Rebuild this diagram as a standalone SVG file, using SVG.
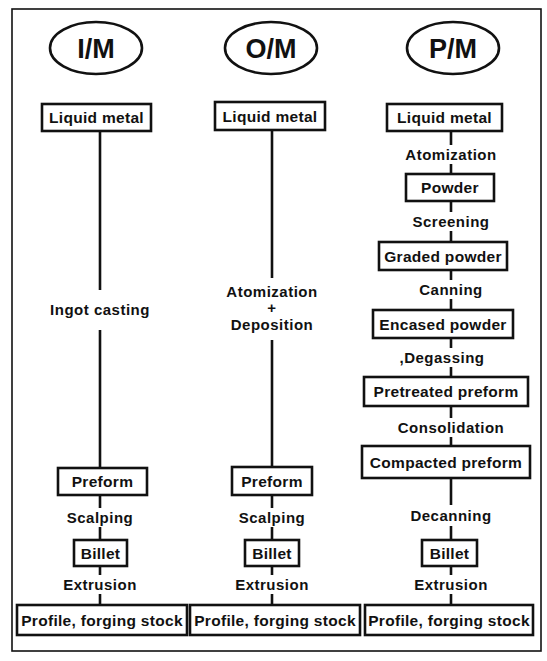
<svg xmlns="http://www.w3.org/2000/svg" width="547" height="661" viewBox="0 0 547 661">
<style>
.frame{fill:none;stroke:#111;stroke-width:1.6}
.box{fill:#fff;stroke:#111;stroke-width:2.6}
.ell{fill:#fff;stroke:#111;stroke-width:2.6}
.ln{stroke:#111;stroke-width:2.6;fill:none}
text{font-family:"Liberation Sans",Arial,sans-serif;font-weight:bold;fill:#111;text-anchor:middle}
.t{font-size:15px;letter-spacing:0.5px}
.b{font-size:15.5px;letter-spacing:0.3px}
.h{font-size:27px}
</style>
<rect width="547" height="661" fill="#fff"/>
<rect class="frame" x="12" y="9" width="529" height="642"/>
<g id="connectors">
<path class="ln" d="M100 131V290M100 330V468M100 495V508M100 527V540M100 566V575M100 594V605"/>
<path class="ln" d="M272 130V278M272 340V467M272 495V508M272 527V540M272 566V575M272 594V605"/>
<path class="ln" d="M451 131V145M451 164V174M451 201V212M451 231V242M451 270V280M451 299V310M451 338V348M451 367V377M451 406V418M451 437V446M451 478V505M451 526V540M451 566V575M451 594V605"/>
</g>
<g id="im-title"><ellipse class="ell" cx="96" cy="48" rx="46" ry="26"/><text class="h" x="96" y="58">I/M</text></g>
<g id="om-title"><ellipse class="ell" cx="271" cy="48" rx="46" ry="26"/><text class="h" x="271" y="58">O/M</text></g>
<g id="pm-title"><ellipse class="ell" cx="453" cy="48" rx="46" ry="26"/><text class="h" x="453" y="58">P/M</text></g>
<g id="im-liquid"><rect class="box" x="42" y="104" width="109" height="27"/><text class="b" x="96.5" y="123">Liquid metal</text></g>
<g id="om-liquid"><rect class="box" x="215" y="102" width="110" height="28"/><text class="b" x="270" y="121.5">Liquid metal</text></g>
<g id="pm-liquid"><rect class="box" x="387" y="104" width="115" height="27"/><text class="b" x="444.5" y="123">Liquid metal</text></g>
<g id="im-cast"><text class="t" x="100" y="315">Ingot casting</text></g>
<g id="om-atom"><text class="t" x="272" y="297">Atomization</text><text class="t" x="272" y="313">+</text><text class="t" x="272" y="330">Deposition</text></g>
<g id="pm-atom"><text class="t" x="451" y="160">Atomization</text></g>
<g id="pm-powder"><rect class="box" x="406" y="174" width="88" height="27"/><text class="b" x="450" y="193">Powder</text></g>
<g id="pm-screen"><text class="t" x="451" y="227">Screening</text></g>
<g id="pm-graded"><rect class="box" x="379" y="242" width="128" height="28"/><text class="b" x="443" y="261.5">Graded powder</text></g>
<g id="pm-can"><text class="t" x="451" y="295">Canning</text></g>
<g id="pm-encased"><rect class="box" x="373" y="310" width="140" height="28"/><text class="b" x="443" y="329.5">Encased powder</text></g>
<g id="pm-degas"><text class="t" x="442" y="363">,Degassing</text></g>
<g id="pm-pretreated"><rect class="box" x="364" y="377" width="164" height="29"/><text class="b" x="446" y="397">Pretreated preform</text></g>
<g id="pm-consol"><text class="t" x="451" y="433">Consolidation</text></g>
<g id="pm-compacted"><rect class="box" x="362" y="446" width="168" height="32"/><text class="b" x="446" y="467.5">Compacted preform</text></g>
<g id="pm-decan"><text class="t" x="451" y="521">Decanning</text></g>
<g id="im-preform"><rect class="box" x="58" y="468" width="89" height="27"/><text class="b" x="102.5" y="487">Preform</text></g>
<g id="om-preform"><rect class="box" x="232" y="467" width="80" height="28"/><text class="b" x="272" y="486.5">Preform</text></g>
<g id="im-scalp"><text class="t" x="100" y="523">Scalping</text></g>
<g id="om-scalp"><text class="t" x="272" y="523">Scalping</text></g>
<g id="im-billet"><rect class="box" x="74" y="540" width="53" height="26"/><text class="b" x="100.5" y="558.5">Billet</text></g>
<g id="om-billet"><rect class="box" x="245" y="540" width="54" height="26"/><text class="b" x="272" y="558.5">Billet</text></g>
<g id="pm-billet"><rect class="box" x="422" y="540" width="55" height="26"/><text class="b" x="449.5" y="558.5">Billet</text></g>
<g id="im-extr"><text class="t" x="100" y="590">Extrusion</text></g>
<g id="om-extr"><text class="t" x="272" y="590">Extrusion</text></g>
<g id="pm-extr"><text class="t" x="451" y="590">Extrusion</text></g>
<g id="im-profile"><rect class="box" x="17" y="605" width="170" height="30"/><text class="b" x="102" y="625.5">Profile, forging stock</text></g>
<g id="om-profile"><rect class="box" x="190" y="605" width="170" height="30"/><text class="b" x="275" y="625.5">Profile, forging stock</text></g>
<g id="pm-profile"><rect class="box" x="365" y="605" width="168" height="30"/><text class="b" x="449" y="625.5">Profile, forging stock</text></g>
</svg>
